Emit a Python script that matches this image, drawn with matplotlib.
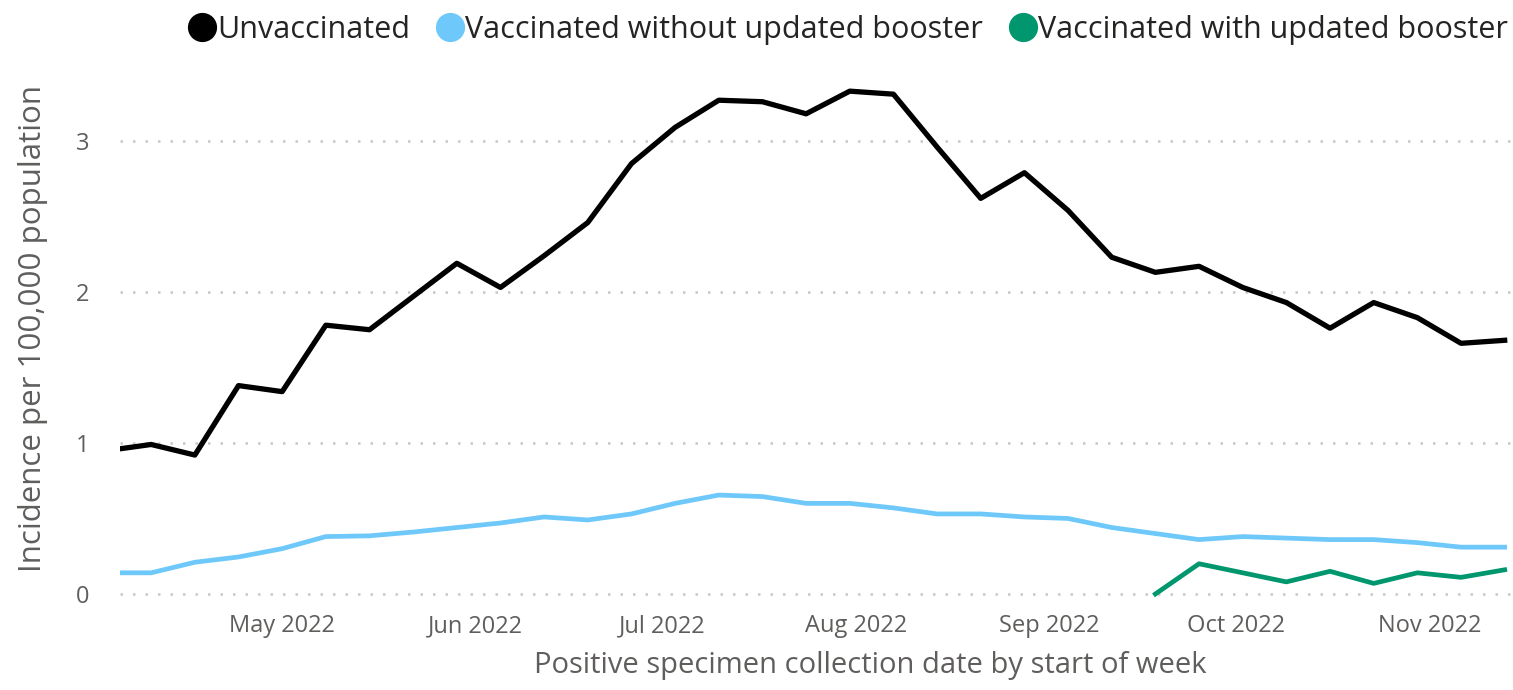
import matplotlib
matplotlib.use("Agg")
import matplotlib.pyplot as plt
import matplotlib.dates as mdates
from matplotlib.lines import Line2D
import numpy as np
import pandas as pd

plt.rcParams['font.family'] = ['Open Sans', 'DejaVu Sans']

weeks = pd.date_range("2022-04-03", periods=33, freq="7D")

unvaccinated = [0.95, 0.99, 0.92, 1.38, 1.34, 1.78, 1.75, 1.97, 2.19, 2.03, 2.24,
                2.46, 2.85, 3.09, 3.27, 3.26, 3.18, 3.33, 3.31, 2.96, 2.62, 2.79,
                2.54, 2.23, 2.13, 2.17, 2.03, 1.93, 1.76, 1.93, 1.83, 1.66, 1.68]
vacc_no_booster = [0.14, 0.14, 0.21, 0.245, 0.30, 0.38, 0.385, 0.41, 0.44, 0.47, 0.51,
                   0.49, 0.53, 0.60, 0.655, 0.645, 0.60, 0.60, 0.57, 0.53, 0.53, 0.51,
                   0.50, 0.44, 0.40, 0.36, 0.38, 0.37, 0.36, 0.36, 0.34, 0.31, 0.31]
vacc_booster = [None] * 24 + [0.0, 0.20, 0.14, 0.08, 0.15, 0.07, 0.14, 0.11, 0.16]

series_names = ["Unvaccinated", "Vaccinated without updated booster",
                "Vaccinated with updated booster"]
colors = ["#000000", "#6EC8FA", "#00966E"]
y_ticks = [0, 1, 2, 3]
month_ticks = pd.date_range("2022-05-01", "2022-11-01", freq="MS")

W, H = 1513, 690
fig = plt.figure(figsize=(W / 100, H / 100), dpi=100)
ax = fig.add_axes([120 / W, 1 - 600 / H, 1 - 120 / W, (600 - 75) / H])

vb = np.array([np.nan if v is None else v for v in vacc_booster], dtype=float)
ax.plot(weeks, unvaccinated, color=colors[0], lw=3.8, zorder=4)
ax.plot(weeks, vacc_no_booster, color=colors[1], lw=3.4, zorder=3)
ax.plot(weeks, vb, color=colors[2], lw=3.4, zorder=3)

ax.set_ylim(-0.04, 3.437)
ax.set_xlim(pd.Timestamp("2022-04-05"), pd.Timestamp("2022-11-14 08:00"))
ax.set_yticks(y_ticks)
ax.set_xticks(month_ticks)
ax.set_xticklabels([d.strftime("%b %Y") for d in month_ticks])
ax.grid(axis='y', color='#c8c8c8', linestyle=(0, (1, 4)), linewidth=1.8)
ax.grid(axis='x', visible=False)
for s in ax.spines.values():
    s.set_visible(False)
ax.tick_params(axis='both', length=0, colors='#605E5C', labelsize=17)
ax.tick_params(axis='x', pad=10)
ax.tick_params(axis='y', pad=22)

ax.set_xlabel("Positive specimen collection date by start of week", fontsize=21,
              color='#605E5C')
ax.xaxis.set_label_coords((870 - 120) / (W - 120), -(651 - 600) / (600 - 75))
ax.set_ylabel("Incidence per 100,000 population", fontsize=22.5, color='#605E5C')
ax.yaxis.set_label_coords(-(120 - 48) / (W - 120), (600 - 329) / (600 - 75))

handles = [Line2D([0], [0], marker='o', color='none', markerfacecolor=c,
                  markeredgecolor=c, markersize=20) for c in colors]
fig.legend(handles, series_names, loc='center right',
           bbox_to_anchor=(1508 / W, 1 - 30 / H),
           ncol=3, frameon=False, fontsize=22, handlelength=0.8,
           handletextpad=0.1, columnspacing=0.9, labelcolor='#252423',
           borderaxespad=0, borderpad=0)

fig.savefig("out.png", dpi=100)
